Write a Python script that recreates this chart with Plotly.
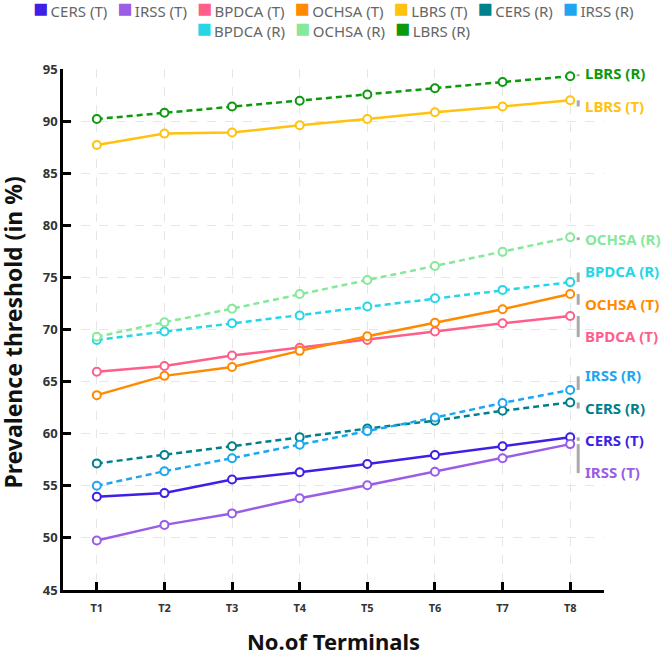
import plotly.graph_objects as go

terminals = ["T1", "T2", "T3", "T4", "T5", "T6", "T7", "T8"]

series_names = ["CERS (T)", "IRSS (T)", "BPDCA (T)", "OCHSA (T)", "LBRS (T)",
                "CERS (R)", "IRSS (R)", "BPDCA (R)", "OCHSA (R)", "LBRS (R)"]

cers_t  = [53.95, 54.3, 55.6, 56.3, 57.1, 57.95, 58.8, 59.65]
irss_t  = [49.75, 51.25, 52.35, 53.8, 55.05, 56.35, 57.65, 59.0]
bpdca_t = [65.95, 66.5, 67.5, 68.25, 69.0, 69.8, 70.6, 71.3]
ochsa_t = [63.7, 65.55, 66.4, 67.95, 69.35, 70.65, 71.95, 73.4]
lbrs_t  = [87.7, 88.8, 88.9, 89.6, 90.2, 90.85, 91.4, 92.0]
cers_r  = [57.15, 57.95, 58.8, 59.65, 60.5, 61.25, 62.2, 63.0]
irss_r  = [55.0, 56.4, 57.65, 58.95, 60.25, 61.55, 62.95, 64.2]
bpdca_r = [69.0, 69.8, 70.6, 71.35, 72.2, 73.0, 73.8, 74.55]
ochsa_r = [69.3, 70.7, 72.0, 73.4, 74.75, 76.1, 77.45, 78.85]
lbrs_r  = [90.2, 90.8, 91.4, 91.95, 92.55, 93.15, 93.75, 94.3]

values = [cers_t, irss_t, bpdca_t, ochsa_t, lbrs_t, cers_r, irss_r, bpdca_r, ochsa_r, lbrs_r]
colors = ["#3d1fe6", "#9b5ce6", "#ff5e8a", "#ff8a00", "#ffc20e",
          "#007f8c", "#1ea7f0", "#26d6e6", "#86e89a", "#0c9a0c"]

y_ticks = [45, 50, 55, 60, 65, 70, 75, 80, 85, 90, 95]
y_range = [45, 95]

legend_rows = [series_names[:7], series_names[7:]]

FONT = "Noto Sans"
W, H = 663, 656
M = dict(l=63, r=59, t=69, b=66)
plot_h = H - M["t"] - M["b"]
px_per_unit = plot_h / (y_range[1] - y_range[0])
LABEL_GAP = 32.3 / px_per_unit
LABEL_BIAS_PER_EXTRA = -0.2  # slight downward bias of crowded label clusters (data units)

# end-label layout: cluster overlapping labels and spread them around their mean
ends = sorted([(v[-1], i) for i, v in enumerate(values)], reverse=True)
clusters = []
for val, i in ends:
    clusters.append([(val, i)])
    merged = True
    while merged and len(clusters) > 1:
        merged = False
        a, b = clusters[-2], clusters[-1]
        ca = sum(x for x, _ in a) / len(a)
        cb = sum(x for x, _ in b) / len(b)
        top_b = cb + (len(b) - 1) * LABEL_GAP / 2
        bot_a = ca - (len(a) - 1) * LABEL_GAP / 2
        if bot_a - top_b < LABEL_GAP:
            clusters[-2:] = [a + b]
            merged = True
label_y = {}
for c in clusters:
    mean = sum(x for x, _ in c) / len(c)
    top = mean + (len(c) - 1) * LABEL_GAP / 2 + LABEL_BIAS_PER_EXTRA * (len(c) - 1)
    for k, (_, i) in enumerate(c):
        label_y[i] = top - k * LABEL_GAP

fig = go.Figure()
for i, (name, vals, col) in enumerate(zip(series_names, values, colors)):
    dashed = "(R)" in name
    fig.add_trace(go.Scatter(
        x=terminals, y=vals, mode="lines+markers", name=name, showlegend=False,
        line=dict(color=col, width=2.5, dash="6px,4px" if dashed else "solid"),
        marker=dict(symbol="circle", size=8, color="white", line=dict(color=col, width=2)),
        hoverinfo="x+y+name",
    ))
    fig.add_shape(type="line", xref="x", yref="y", xsizemode="pixel", xanchor=terminals[-1],
                  x0=8, x1=8, y0=vals[-1], y1=label_y[i],
                  line=dict(color="#aaaaaa", width=3))
    fig.add_annotation(x=terminals[-1], y=label_y[i], xref="x", yref="y",
                       xanchor="left", yanchor="middle", xshift=13, yshift=1, showarrow=False,
                       text=f"<b>{name}</b>", font=dict(family=FONT, size=15, color=col))

# legend (two centered rows, like the original)
color_of = dict(zip(series_names, colors))
def legend_row(names):
    parts = [f'<span style="color:{color_of[n]};font-size:25px">\u25A0</span>\u2009{n}' for n in names]
    return "\u2002\u2009".join(parts)

legend_center_px = 17
fig.add_annotation(x=0.5, xref="paper", y=1 + (M["t"] - legend_center_px) / plot_h, yref="paper",
                   xanchor="center", yanchor="middle", showarrow=False, align="center",
                   text="<br>".join(legend_row(r) for r in legend_rows), borderpad=0,
                   font=dict(family=FONT, size=15, color="#666"))

# y-axis title placed as a rotated annotation left of the tick labels
fig.add_annotation(x=0, xref="paper", xshift=-(M["l"] - 12), y=0.5, yref="paper", yshift=-3,
                   xanchor="center", yanchor="middle", textangle=-90, showarrow=False,
                   text="<b>Prevalence threshold (in %)</b>",
                   font=dict(family=FONT, size=23, color="#111"))

fig.update_layout(
    width=W, height=H, margin=M,
    paper_bgcolor="white", plot_bgcolor="white",
    font=dict(family=FONT, color="#333"),
    showlegend=False,
)
fig.update_xaxes(
    type="category", range=[-0.5, 7.5], showline=True, linecolor="black", linewidth=2.5,
    ticks="inside", ticklen=8, tickwidth=2.5, tickcolor="black",
    showgrid=True, gridcolor="#e6e6e6", griddash="dash", gridwidth=1,
    tickfont=dict(family=FONT, size=11, color="#333", weight="bold"),
    ticklabelstandoff=6, automargin=False,
    title=dict(text="<b>No.of Terminals</b>", font=dict(family=FONT, size=22, color="#111"), standoff=27),
    zeroline=False,
)
fig.update_yaxes(
    range=y_range, tickvals=y_ticks, showline=True, linecolor="black", linewidth=2.5,
    ticks="inside", ticklen=8, tickwidth=2.5, tickcolor="black",
    showgrid=True, gridcolor="#e6e6e6", griddash="dash", gridwidth=1,
    tickfont=dict(family=FONT, size=13, color="#333", weight="bold"),
    automargin=False,
    zeroline=False,
)
fig.write_html("out.html")
